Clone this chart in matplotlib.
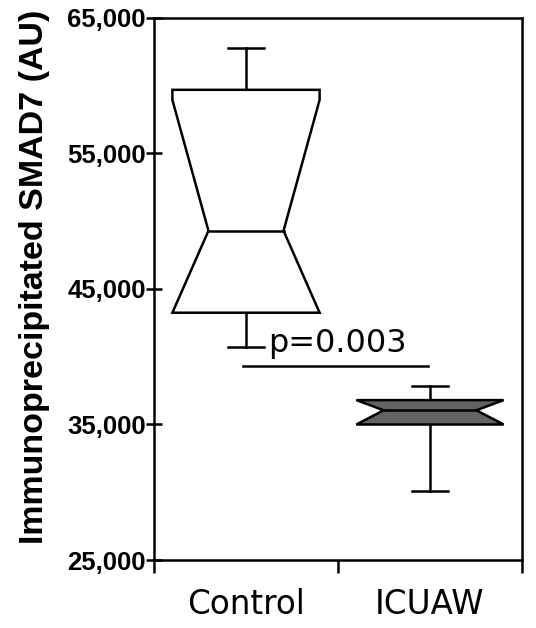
import numpy as np
import matplotlib
matplotlib.use('Agg')
from matplotlib import pyplot as plt

groups = ['Control', 'ICUAW']
whisk_lo = [40700, 30100]
q1 = [43250, 35000]
median = [49300, 36050]
q3 = [59700, 36800]
whisk_hi = [62800, 37850]
# notch limits (clipped at the box edges)
ci_lo = [43250, 35000]
ci_hi = [58950, 36800]
p_text = 'p=0.003'
y_ticks = [25000, 35000, 45000, 55000, 65000]

fills = ['white', '#636363']
notch_frac = [0.51, 0.63]
box_w = 0.8
cap_w = 0.2
lw = 1.8

fig = plt.figure(figsize=(5.36, 6.28), dpi=100)
ax = fig.add_axes([154/536, 68/628, 368/536, 542/628])

for i, g in enumerate(groups):
    x = i + 1
    hw = box_w / 2
    nw = hw * notch_frac[i]
    xs = [x-hw, x+hw, x+hw, x+nw, x+hw, x+hw, x-hw, x-hw, x-nw, x-hw, x-hw]
    ys = [q1[i], q1[i], ci_lo[i], median[i], ci_hi[i], q3[i], q3[i], ci_hi[i], median[i], ci_lo[i], q1[i]]
    ax.fill(xs, ys, facecolor=fills[i], edgecolor='black', lw=lw, joinstyle='miter', zorder=3)
    ax.plot([x-nw, x+nw], [median[i], median[i]], color='black', lw=lw, zorder=4)
    # whiskers
    ax.plot([x, x], [q3[i], whisk_hi[i]], color='black', lw=lw, zorder=2)
    ax.plot([x, x], [whisk_lo[i], q1[i]], color='black', lw=lw, zorder=2)
    ax.plot([x-cap_w/2, x+cap_w/2], [whisk_hi[i]]*2, color='black', lw=lw, zorder=2)
    ax.plot([x-cap_w/2, x+cap_w/2], [whisk_lo[i]]*2, color='black', lw=lw, zorder=2)

# significance bar
ax.plot([0.985, 1.99], [39300, 39300], color='black', lw=lw)
ax.text(1.12, 40350, p_text, fontsize=23, family='DejaVu Sans', ha='left', va='baseline')

ax.set_xlim(0.5, 2.5)
ax.set_ylim(25000, 65000)
ax.set_xticks([0.5, 1.5, 2.5])
ax.set_xticklabels([])
ax.set_xticks([1, 2], minor=True)
ax.set_xticklabels(groups, minor=True, fontsize=23.5, family='DejaVu Sans')
ax.tick_params(axis='x', which='minor', length=0, pad=20)
ax.tick_params(axis='x', which='major', direction='out', length=9.5, width=lw)
ax.set_yticks(y_ticks)
ax.set_yticklabels(['{:,}'.format(v) for v in y_ticks], fontsize=18.5, fontweight='bold', family='Liberation Sans')
ax.tick_params(axis='y', direction='inout', length=12, width=lw, pad=0)
for s in ax.spines.values():
    s.set_linewidth(lw)

fig.text(35/536, 1 - 277/628, 'Immunoprecipitated SMAD7 (AU)', rotation=90, ha='center', va='center',
         fontsize=24.5, fontweight='bold', family='Liberation Sans')

fig.savefig('out.png', dpi=100)
